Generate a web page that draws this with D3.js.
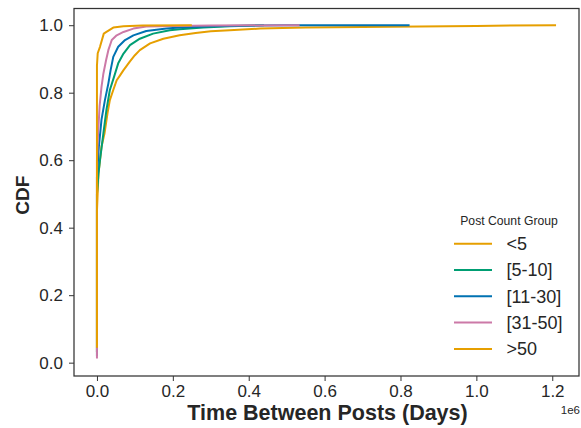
<!DOCTYPE html>
<html>
<head>
<meta charset="utf-8">
<script src="https://cdn.jsdelivr.net/npm/d3@7"></script>
<style>
  html, body { margin: 0; padding: 0; background: #fff; }
  svg { display: block; font-family: "Liberation Sans", Arial, sans-serif; }
</style>
</head>
<body>
<svg id="chart" width="581" height="428"></svg>
<script>
// ---- data (x in raw units, y = CDF) ----
const groups = ["<5", "[5-10]", "[11-30]", "[31-50]", ">50"];
const groupColors = ["#E69F00", "#009E73", "#0072B2", "#CC79A7", "#E69F00"];

const seriesLt5 = [[0,0.03],[0,0.45],[4000,0.56],[12000,0.64],[20000,0.68],[24000,0.71],[28000,0.74],[34000,0.778],[43000,0.808],[52000,0.837],[60000,0.85],[70000,0.867],[87000,0.893],[100000,0.911],[113000,0.926],[140000,0.946],[175000,0.96],[218000,0.97],[260000,0.977],[300000,0.982],[350000,0.985],[430000,0.99],[550000,0.993],[700000,0.995],[850000,0.996],[1000000,0.998],[1210000,1.0]];
const series5to10 = [[0,0.03],[0,0.5],[4000,0.56],[8000,0.60],[17000,0.68],[25000,0.749],[34000,0.808],[45000,0.847],[56000,0.887],[70000,0.916],[87000,0.941],[113000,0.96],[148000,0.975],[192000,0.985],[218000,0.988],[280000,0.993],[350000,0.997],[440000,1.0]];
const series11to30 = [[0,0.02],[0,0.55],[5000,0.64],[12000,0.72],[21000,0.778],[30000,0.827],[36000,0.867],[43000,0.906],[56000,0.936],[74000,0.956],[96000,0.97],[130000,0.983],[183000,0.99],[218000,0.993],[300000,0.997],[420000,0.999],[500000,1.0],[824000,1.0]];
const series31to50 = [[0,0.012],[0,0.6],[3000,0.68],[7000,0.76],[12000,0.817],[17000,0.857],[24000,0.896],[30000,0.926],[39000,0.956],[52000,0.97],[70000,0.98],[96000,0.99],[130000,0.996],[200000,0.998],[300000,0.999],[534000,1.0]];
const seriesGt50 = [[0,0.044],[0,0.88],[2000,0.917],[8000,0.936],[18000,0.975],[25000,0.98],[43000,0.993],[70000,0.997],[120000,0.999],[250000,1.0]];
const allSeries = [seriesLt5, series5to10, series11to30, series31to50, seriesGt50];

const xTicks = [0, 200000, 400000, 600000, 800000, 1000000, 1200000];
const xTickLabels = ["0.0", "0.2", "0.4", "0.6", "0.8", "1.0", "1.2"];
const yTicks = [0, 0.2, 0.4, 0.6, 0.8, 1.0];
const yTickLabels = ["0.0", "0.2", "0.4", "0.6", "0.8", "1.0"];

// ---- layout ----
const svg = d3.select("#chart");
const L = 74, R = 579, T = 8.5, B = 376;
const textColor = "#262626";

const x = d3.scaleLinear().domain([-60500, 1270500]).range([L, R]);
const y = d3.scaleLinear().domain([-0.0395, 1.0495]).range([B, T]);

svg.append("defs").append("clipPath").attr("id", "clip")
  .append("rect").attr("x", L).attr("y", T).attr("width", R - L).attr("height", B - T);

// lines
const line = d3.line().x(d => x(d[0])).y(d => y(d[1]));
const g = svg.append("g").attr("clip-path", "url(#clip)");
allSeries.forEach((s, i) => {
  g.append("path").datum(s)
    .attr("d", line)
    .attr("fill", "none")
    .attr("stroke", groupColors[i])
    .attr("stroke-width", 2)
    .attr("stroke-linejoin", "round");
});

// axes
const xAxis = d3.axisBottom(x).tickValues(xTicks).tickFormat((d, i) => xTickLabels[i]).tickSize(5).tickPadding(4);
const yAxis = d3.axisLeft(y).tickValues(yTicks).tickFormat((d, i) => yTickLabels[i]).tickSize(5).tickPadding(6);

const gx = svg.append("g").attr("transform", `translate(0,${B})`).call(xAxis);
const gy = svg.append("g").attr("transform", `translate(${L},0)`).call(yAxis);
[gx, gy].forEach(a => {
  a.select(".domain").remove();
  a.selectAll(".tick line").attr("stroke", "#333").attr("stroke-width", 1);
  a.selectAll(".tick text").attr("fill", textColor).style("font-size", "17px")
    .style("font-family", '"Liberation Sans", Arial, sans-serif');
});

// spines
svg.append("rect").attr("x", L).attr("y", T).attr("width", R - L).attr("height", B - T)
  .attr("fill", "none").attr("stroke", "#333").attr("stroke-width", 1.25);

// offset text
svg.append("text").attr("x", 580).attr("y", 414).attr("text-anchor", "end")
  .attr("fill", textColor).style("font-size", "11.5px").text("1e6");

// axis labels
svg.append("text").attr("x", (L + R) / 2 + 1).attr("y", 420).attr("text-anchor", "middle")
  .attr("fill", textColor).style("font-size", "21.5px").style("font-weight", "bold")
  .text("Time Between Posts (Days)");
svg.append("text").attr("transform", `translate(29,${(T + B) / 2 + 3}) rotate(-90)`)
  .attr("text-anchor", "middle").attr("fill", textColor)
  .style("font-size", "19px").style("font-weight", "bold").text("CDF");

// legend
const lg = svg.append("g");
lg.append("text").attr("x", 509).attr("y", 225).attr("text-anchor", "middle")
  .attr("fill", textColor).style("font-size", "12.2px").text("Post Count Group");
groups.forEach((name, i) => {
  const yy = 243.7 + i * 26.3;
  lg.append("line").attr("x1", 454).attr("x2", 492).attr("y1", yy).attr("y2", yy)
    .attr("stroke", groupColors[i]).attr("stroke-width", 2);
  lg.append("text").attr("x", 506.5).attr("y", yy + 6.3).attr("fill", textColor)
    .style("font-size", "18px").text(name);
});
</script>
</body>
</html>
